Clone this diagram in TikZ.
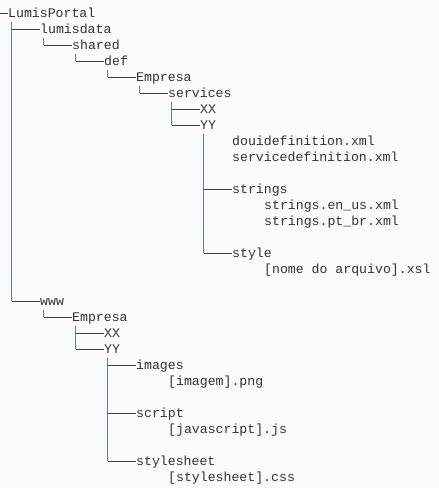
\documentclass[tikz,border=0pt]{standalone}
\usepackage{fontspec}
\setmonofont{Liberation Mono}
\usepackage{tikz}
\usetikzlibrary{positioning}
\definecolor{treetext}{RGB}{51,51,51}
\definecolor{treeblue}{RGB}{79,129,189}
\definecolor{treegray}{RGB}{64,64,64}
\definecolor{treebg}{RGB}{251,251,251}
\tikzset{
  entry/.style={anchor=west, inner sep=0pt, text height=8pt, text depth=0pt,
    font=\ttfamily\fontsize{13.2}{16}\selectfont, text=treetext},
  vline/.style={draw=treeblue, line width=1.5pt},
  hline/.style={draw=treegray, line width=0.9pt},
  trunk/.style={xshift=3.5pt, yshift=-4.5pt}
}
\begin{document}
\begin{tikzpicture}[x=1pt, y=-1pt]
  \fill[treebg] (0,0) rectangle (439,488);
  \useasboundingbox (0,0) rectangle (439,488);

  % lumisdata branch
  \coordinate (root) at (0,13);
  \node[entry] (lp)  at (8,13)    {LumisPortal};
  \node[entry] (ld)  at (40,29)   {lumisdata};
  \node[entry] (sh)  at (72,45)   {shared};
  \node[entry] (df)  at (104,61)  {def};
  \node[entry] (em)  at (136,77)  {Empresa};
  \node[entry] (sv)  at (168,93)  {services};
  \node[entry] (xx)  at (200,109) {XX};
  \node[entry] (yy)  at (200,125) {YY};
  \node[entry] (f1)  at (232,141) {douidefinition.xml};
  \node[entry] (f2)  at (232,157) {servicedefinition.xml};
  \node[entry] (st)  at (232,189) {strings};
  \node[entry] (s1)  at (264,205) {strings.en\_us.xml};
  \node[entry] (s2)  at (264,221) {strings.pt\_br.xml};
  \node[entry] (sy)  at (232,253) {style};
  \node[entry] (x1)  at (264,269) {[nome do arquivo].xsl};

  % www branch
  \node[entry] (ww)  at (40,301)  {www};
  \node[entry] (em2) at (72,317)  {Empresa};
  \node[entry] (xx2) at (104,333) {XX};
  \node[entry] (yy2) at (104,349) {YY};
  \node[entry] (im)  at (136,365) {images};
  \node[entry] (i1)  at (168,381) {[imagem].png};
  \node[entry] (sc)  at (136,413) {script};
  \node[entry] (j1)  at (168,429) {[javascript].js};
  \node[entry] (ss)  at (136,461) {stylesheet};
  \node[entry] (c1)  at (168,477) {[stylesheet].css};

  % Trunk tops
  \coordinate (lpT)  at ([trunk]lp.south west);
  \coordinate (ldT)  at ([trunk]ld.south west);
  \coordinate (shT)  at ([trunk]sh.south west);
  \coordinate (dfT)  at ([trunk]df.south west);
  \coordinate (emT)  at ([trunk]em.south west);
  \coordinate (svT)  at ([trunk]sv.south west);
  \coordinate (yyT)  at ([trunk]yy.south west);
  \coordinate (wwT)  at ([trunk]ww.south west);
  \coordinate (em2T) at ([trunk]em2.south west);
  \coordinate (yy2T) at ([trunk]yy2.south west);

  % Vertical links
  \draw[vline] (lpT)  -- (lpT |- ww.west);
  \draw[vline] (ldT)  -- (ldT |- sh.west);
  \draw[vline] (shT)  -- (shT |- df.west);
  \draw[vline] (dfT)  -- (dfT |- em.west);
  \draw[vline] (emT)  -- (emT |- sv.west);
  \draw[vline] (svT)  -- (svT |- yy.west);
  \draw[vline] (yyT)  -- (yyT |- sy.west);
  \draw[vline] (wwT)  -- (wwT |- em2.west);
  \draw[vline] (em2T) -- (em2T |- yy2.west);
  \draw[vline] (yy2T) -- (yy2T |- ss.west);

  % Horizontal links
  \draw[hline] (root) -- (lp.west);
  \draw[hline] (lpT |- ld.west)   -- (ld.west);
  \draw[hline] (lpT |- ww.west)   -- (ww.west);
  \draw[hline] (ldT |- sh.west)   -- (sh.west);
  \draw[hline] (shT |- df.west)   -- (df.west);
  \draw[hline] (dfT |- em.west)   -- (em.west);
  \draw[hline] (emT |- sv.west)   -- (sv.west);
  \draw[hline] (svT |- xx.west)   -- (xx.west);
  \draw[hline] (svT |- yy.west)   -- (yy.west);
  \draw[hline] (yyT |- st.west)   -- (st.west);
  \draw[hline] (yyT |- sy.west)   -- (sy.west);
  \draw[hline] (wwT |- em2.west)  -- (em2.west);
  \draw[hline] (em2T |- xx2.west) -- (xx2.west);
  \draw[hline] (em2T |- yy2.west) -- (yy2.west);
  \draw[hline] (yy2T |- im.west)  -- (im.west);
  \draw[hline] (yy2T |- sc.west)  -- (sc.west);
  \draw[hline] (yy2T |- ss.west)  -- (ss.west);
\end{tikzpicture}
\end{document}
